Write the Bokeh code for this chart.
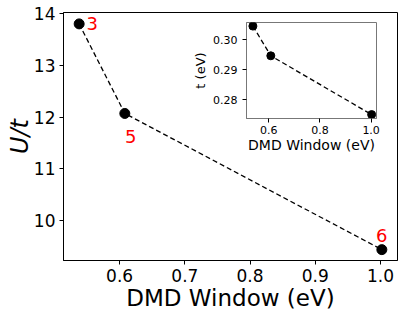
from bokeh.plotting import figure
from bokeh.layouts import column
from bokeh.models import FixedTicker, NumeralTickFormatter, Range1d, ColumnDataSource
from bokeh.core.properties import value
from bokeh.embed import file_html
from bokeh.resources import INLINE

# data
window = [0.538, 0.608, 1.002]
u_over_t = [13.80, 12.07, 9.44]
labels = ["3", "5", "6"]
label_dx = [13, 6, 0]
label_dy = [0, 23, -14]

t_ev = [0.3045, 0.2946, 0.2750]

FONT = "DejaVu Sans"
LEFT = 63
RIGHT = 10

p = figure(frame_width=334, frame_height=248, output_backend="svg", toolbar_location=None,
           x_range=Range1d(0.514, 1.026), y_range=Range1d(9.23, 14.02),
           min_border_left=LEFT, min_border_top=12, min_border_right=RIGHT, min_border_bottom=59)
p.grid.visible = False
p.outline_line_color = "black"
p.outline_line_alpha = 1
for ax in [p.xaxis[0], p.yaxis[0]]:
    ax.axis_line_color = "black"
    ax.major_tick_line_color = "black"
    ax.minor_tick_line_color = None
    ax.major_tick_out = 4
    ax.major_tick_in = 0
    ax.major_label_standoff = 4
    ax.major_label_text_font = FONT
    ax.major_label_text_font_size = "17px"
    ax.major_label_text_color = "black"
    ax.axis_label_text_font = FONT
    ax.axis_label_text_color = "black"
    ax.axis_label_text_font_style = "normal"
p.xaxis.ticker = FixedTicker(ticks=[0.6, 0.7, 0.8, 0.9, 1.0])
p.xaxis.formatter = NumeralTickFormatter(format="0.0")
p.yaxis.ticker = FixedTicker(ticks=[10, 11, 12, 13, 14])
p.yaxis.formatter = NumeralTickFormatter(format="0")
p.xaxis.axis_label = "DMD Window (eV)"
p.xaxis.axis_label_text_font_size = "23px"
p.xaxis.axis_label_standoff = 0
p.yaxis.axis_label = "U/t"
p.yaxis.axis_label_text_font_size = "24px"
p.yaxis.axis_label_text_font_style = "italic"
p.yaxis.axis_label_standoff = -3

src = ColumnDataSource(dict(x=window, y=u_over_t, lab=labels, dx=label_dx, dy=label_dy))
p.line("x", "y", source=src, line_color="black", line_dash="5 3", line_width=1.3)
p.scatter("x", "y", source=src, size=10, fill_color="black", line_color="black")
p.text("x", "y", text="lab", source=src, x_offset="dx", y_offset="dy",
       text_color="red", text_font=value(FONT), text_font_size="18px",
       text_align="center", text_baseline="middle")

# inset: column aligns plot borders, so give it the same left/right borders
INS_X = 246 - LEFT
INS_W = LEFT + 130 + RIGHT
ins = figure(frame_width=130, frame_height=96, output_backend="svg", toolbar_location=None,
             x_range=Range1d(0.513, 1.021), y_range=Range1d(0.2737, 0.3057),
             min_border_left=LEFT, min_border_top=4, min_border_right=RIGHT, min_border_bottom=40,
             margin=(-301, 407 - INS_X - INS_W, 161, INS_X))
ins.grid.visible = False
ins.background_fill_alpha = 0
ins.border_fill_alpha = 0
ins.outline_line_color = "#777777"
for ax in [ins.xaxis[0], ins.yaxis[0]]:
    ax.axis_line_color = "#777777"
    ax.major_tick_line_color = "black"
    ax.minor_tick_line_color = None
    ax.major_tick_out = 4
    ax.major_tick_in = 0
    ax.major_label_standoff = 5
    ax.major_label_text_font = FONT
    ax.major_label_text_font_size = "11px"
    ax.major_label_text_color = "black"
    ax.axis_label_text_font = FONT
    ax.axis_label_text_font_size = "14px"
    ax.axis_label_text_color = "black"
    ax.axis_label_text_font_style = "normal"
ins.xaxis.ticker = FixedTicker(ticks=[0.6, 0.8, 1.0])
ins.xaxis.formatter = NumeralTickFormatter(format="0.0")
ins.xaxis.major_label_standoff = 3
ins.yaxis.ticker = FixedTicker(ticks=[0.28, 0.29, 0.30])
ins.yaxis.formatter = NumeralTickFormatter(format="0.00")
ins.xaxis.axis_label = "DMD Window (eV)"
ins.xaxis.axis_label_standoff = 0
ins.yaxis.axis_label = "t (eV)"
ins.yaxis.axis_label_text_font_size = "13px"
ins.yaxis.axis_label_standoff = 2

isrc = ColumnDataSource(dict(x=window, y=t_ev))
ins.line("x", "y", source=isrc, line_color="black", line_dash="5 3", line_width=1.3)
ins.scatter("x", "y", source=isrc, size=8, fill_color="black", line_color="black")

layout = column(p, ins, spacing=0)
open("out.html", "w").write(file_html(layout, INLINE))
